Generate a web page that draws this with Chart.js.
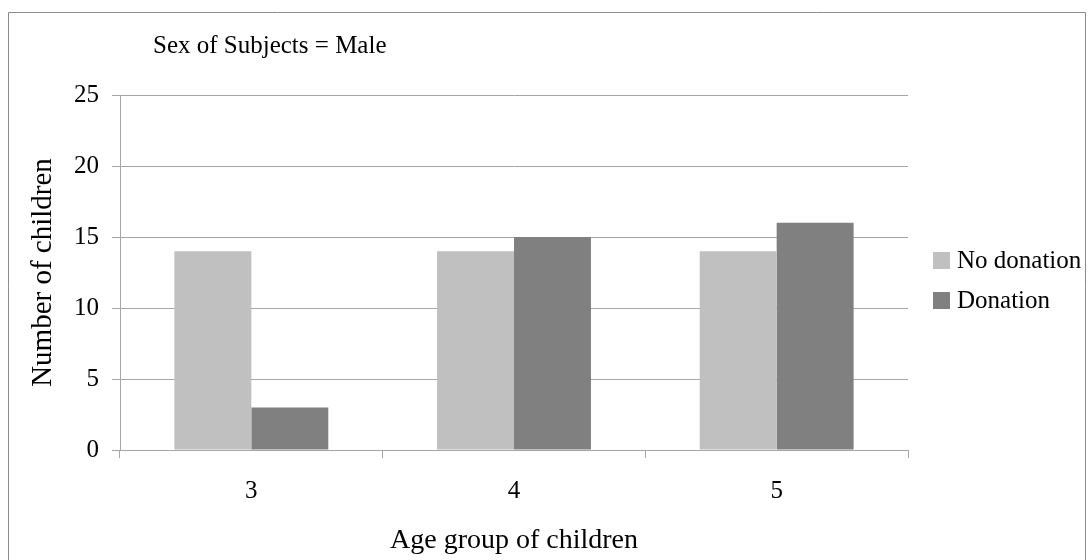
<!DOCTYPE html>
<html>
<head>
<meta charset="utf-8">
<script src="https://cdn.jsdelivr.net/npm/chart.js@4/dist/chart.umd.min.js"></script>
<style>
    html, body { margin: 0; padding: 0; background: #ffffff; }
    #wrap { width: 1091px; height: 560px; }
</style>
</head>
<body>
<div id="wrap"><canvas id="grafico"></canvas></div>
<script>
// ============================
// DADOS
// ============================
const idades = ['3', '4', '5'];
const semDoacao = [14, 14, 14];
const comDoacao = [3, 15, 16];
const ticksY = [0, 5, 10, 15, 20, 25];

const tituloTexto = 'Sex of Subjects = Male';
const fonte = '"Liberation Serif", "Times New Roman", serif';

// ============================
// PLUGIN: MOLDURA, TÍTULO E LEGENDA
// ============================
const extras = {
    id: 'extras',
    afterDraw(chart) {
        const ctx = chart.ctx;
        ctx.save();

        // moldura externa
        ctx.strokeStyle = '#8c8c8c';
        ctx.lineWidth = 1;
        ctx.beginPath();
        ctx.moveTo(8.5, 570);
        ctx.lineTo(8.5, 12.5);
        ctx.lineTo(1085.5, 12.5);
        ctx.lineTo(1085.5, 570);
        ctx.stroke();

        // título
        ctx.fillStyle = '#000000';
        ctx.font = '25px ' + fonte;
        ctx.textBaseline = 'alphabetic';
        ctx.textAlign = 'left';
        ctx.fillText(tituloTexto, 153, 53);

        // legenda
        ctx.textBaseline = 'middle';
        chart.data.datasets.forEach((ds, i) => {
            const y = 252 + i * 40;
            ctx.fillStyle = ds.backgroundColor;
            ctx.fillRect(933, y, 17, 17);
            ctx.fillStyle = '#000000';
            ctx.fillText(ds.label, 957, y + 9);
        });

        ctx.restore();
    }
};

// ============================
// GRÁFICO
// ============================
new Chart(document.getElementById('grafico'), {
    type: 'bar',
    data: {
        labels: idades,
        datasets: [
            { label: 'No donation', data: semDoacao, backgroundColor: '#c0c0c0' },
            { label: 'Donation', data: comDoacao, backgroundColor: '#808080' }
        ]
    },
    options: {
        responsive: true,
        maintainAspectRatio: false,
        animation: false,
        layout: { padding: { top: 95, right: 183, left: 0, bottom: 0 } },
        datasets: { bar: { categoryPercentage: 0.586, barPercentage: 1.0 } },
        plugins: {
            legend: { display: false },
            tooltip: { enabled: false }
        },
        scales: {
            x: {
                offset: true,
                grid: { offset: true, drawOnChartArea: false, color: '#a6a6a6', tickLength: 8 },
                border: { color: '#a6a6a6' },
                ticks: { color: '#000000', font: { family: fonte, size: 25 }, padding: 18 },
                title: { display: true, text: 'Age group of children', color: '#000000',
                         font: { family: fonte, size: 28 }, padding: { top: 0, bottom: 3 } },
                afterFit(scale) { scale.height = 110; }
            },
            y: {
                min: 0,
                max: 25,
                afterBuildTicks(scale) { scale.ticks = ticksY.map(v => ({ value: v })); },
                grid: { color: '#a6a6a6', tickLength: 8 },
                border: { color: '#a6a6a6' },
                ticks: { color: '#000000', font: { family: fonte, size: 25 }, padding: 13 },
                title: { display: true, text: 'Number of children', color: '#000000',
                         font: { family: fonte, size: 29 }, padding: { top: 26, bottom: 0 } },
                afterFit(scale) { scale.width = 120; }
            }
        }
    },
    plugins: [extras]
});
</script>
</body>
</html>
